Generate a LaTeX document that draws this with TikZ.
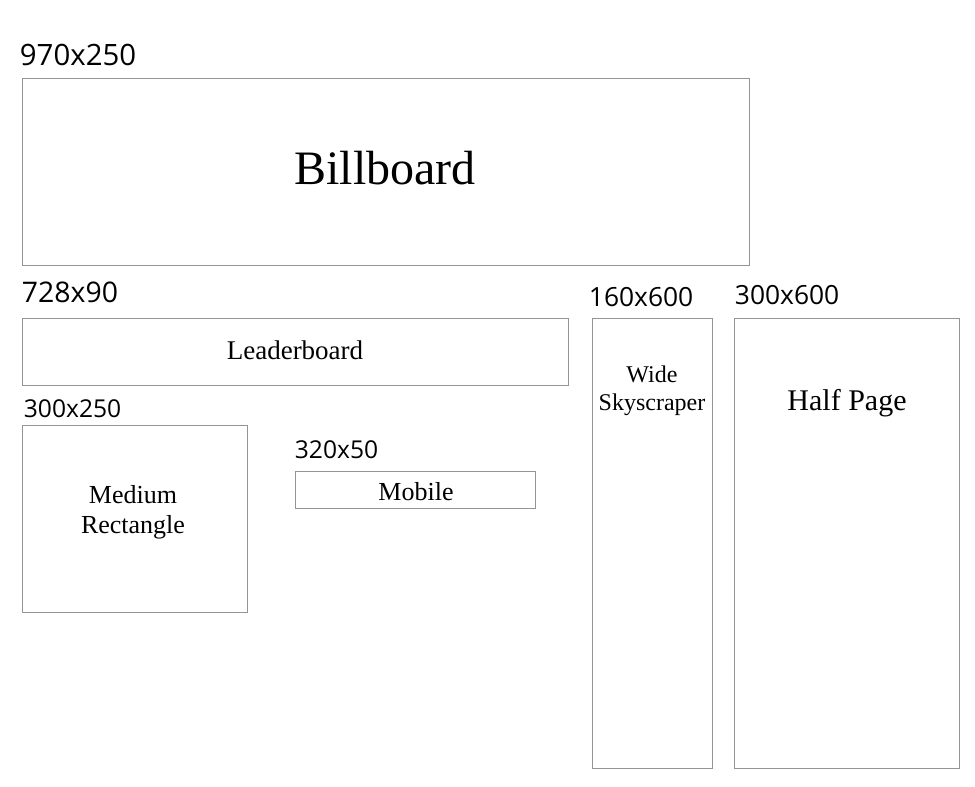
\documentclass[tikz,border=0pt]{standalone}
\usepackage{fontspec}
\setmainfont{Liberation Serif}
\newfontfamily\sizefont{Open Sans}
\usetikzlibrary{positioning}

\tikzset{
  adbox/.style = {draw = black!42, line width = 0.5pt, inner sep = 0pt},
  adsize/.style = {anchor = base west, inner sep = 0pt},
  adname/.style = {anchor = base, inner sep = 0pt, align = center}
}

\begin{document}
\begin{tikzpicture}[x = 0.5pt, y = -0.5pt]
\useasboundingbox (0,0) rectangle (975,787);

% the ad boxes
\node[adbox, minimum width = 363.5pt, minimum height = 93.5pt] (bill) at (385.5,171.5) {};
\node[adbox, minimum width = 273pt, minimum height = 33.5pt] (lead) at (295,351.5) {};
\node[adbox, minimum width = 112.5pt, minimum height = 93.5pt] (medrect) at (134.5,518.5) {};
\node[adbox, minimum width = 120pt, minimum height = 18.5pt] (mobile) at (415,489.5) {};
\node[adbox, minimum width = 60pt, minimum height = 225pt] (sky) at (652,543) {};
\node[adbox, minimum width = 112.5pt, minimum height = 225pt] (half) at (846.5,543) {};

% sizes
\node[adsize, font = \sizefont\fontsize{14.7}{17}\selectfont] (billsize) at ([shift = {(-2,-12)}]bill.north west) {970x250};
\node[adsize, font = \sizefont\fontsize{14.2}{17}\selectfont] (leadsize) at ([shift = {(0,-15)}]lead.north west) {728x90};
\node[adsize, font = \sizefont\fontsize{12.3}{15}\selectfont] (medrectsize) at ([shift = {(2,-7)}]medrect.north west) {300x250};
\node[adsize, font = \sizefont\fontsize{12.3}{15}\selectfont] (mobilesize) at ([shift = {(0,-12)}]mobile.north west) {320x50};
\node[adsize, font = \sizefont\fontsize{13.2}{16}\selectfont] (skysize) at ([shift = {(-3,-11)}]sky.north west) {160x600};
\node[adsize, font = \sizefont\fontsize{13.2}{16}\selectfont] (halfsize) at ([shift = {(1,-13)}]half.north west) {300x600};

% names
\node[adname, font = \fontsize{24}{28}\selectfont] (billname) at (385,184) {Billboard};
\node[adname, font = \fontsize{13.5}{16}\selectfont] (leadname) at (295,359) {Leaderboard};
\node[adname, font = \fontsize{13}{15}\selectfont] (medrectname) at (133,533) {Medium\\Rectangle};
\node[adname, font = \fontsize{13}{16}\selectfont] (mobilename) at (416,500) {Mobile};
\node[adname, font = \fontsize{12}{13.75}\selectfont] (skyname) at (652,410) {Wide\\Skyscraper};
\node[adname, font = \fontsize{15}{18}\selectfont] (halfname) at (847,410) {Half Page};
\end{tikzpicture}
\end{document}
